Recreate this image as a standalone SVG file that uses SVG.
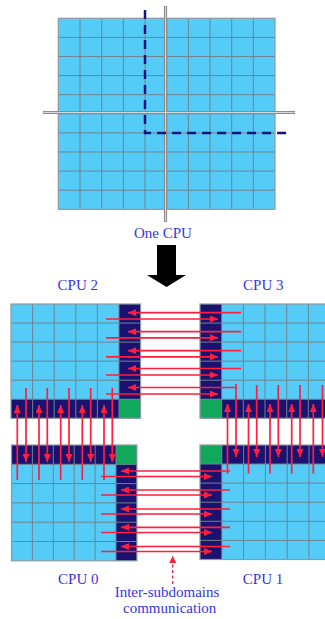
<svg xmlns="http://www.w3.org/2000/svg" width="325" height="619" viewBox="0 0 325 619">
<style>
.cell{fill:#55ccf8}
.navy{fill:#1b1270}
.green{fill:#12a85c}
.grid{fill:none;stroke:#6f8390;stroke-width:1}
.border{fill:none;stroke:#8a9aa2;stroke-width:1.2}
.lbl{font-family:"Liberation Serif","Times New Roman",serif;font-size:15px;fill:#3636e0;text-anchor:middle}
.ar{stroke:#ff1e3e;stroke-width:1.7;fill:none;marker-end:url(#ah)}
</style>
<defs>
<marker id="ah" markerUnits="userSpaceOnUse" markerWidth="9" markerHeight="7" refX="8" refY="3.5" orient="auto">
<path d="M0,0 L8,3.5 L0,7 z" fill="#ff1e3e"/>
</marker>
<marker id="ahd" markerUnits="userSpaceOnUse" markerWidth="8" markerHeight="7" refX="7" refY="3.5" orient="auto">
<path d="M0,0 L7,3.5 L0,7 z" fill="#ff1e3e"/>
</marker>
</defs>
<rect width="325" height="619" fill="#ffffff"/>

<g id="one-cpu">
<rect class="cell" x="58.3" y="18.3" width="216.7" height="191"/>
<path class="grid" d="M80,18.3V209.3M101.7,18.3V209.3M123.3,18.3V209.3M145,18.3V209.3M166.7,18.3V209.3M188.3,18.3V209.3M210,18.3V209.3M231.7,18.3V209.3M253.3,18.3V209.3M58.3,37.4H275M58.3,56.5H275M58.3,75.6H275M58.3,94.7H275M58.3,113.8H275M58.3,132.9H275M58.3,152H275M58.3,171.1H275M58.3,190.2H275"/>
<rect class="border" x="58.3" y="18.3" width="216.7" height="191"/>
<path d="M165.5,6V222M43,112.5H295" stroke="#8c8c8c" stroke-width="3.2" fill="none"/>
<path d="M165.5,6.5V221.5M43.5,112.5H294.5" stroke="#d8d8d8" stroke-width="1" fill="none"/>
<path d="M145,10V132.9H292" stroke="#141480" stroke-width="2.5" fill="none" stroke-dasharray="9,6"/>
<text class="lbl" x="163" y="238">One CPU</text>
</g>

<g id="split-arrow">
<polygon points="157,245 176,245 176,275 186,275 166.5,287 147,275 157,275" fill="#000000"/>
</g>

<g id="cpu2">
<rect class="cell" x="11" y="304" width="129.6" height="114.3"/>
<rect class="navy" x="119" y="304" width="21.6" height="95.25"/>
<rect class="navy" x="11" y="399.25" width="108" height="19.05"/>
<rect class="green" x="119" y="399.25" width="21.6" height="19.05"/>
<path class="grid" d="M32.6,304V418.3M54.2,304V418.3M75.8,304V418.3M97.4,304V418.3M119,304V418.3M11,323.05H140.6M11,342.1H140.6M11,361.15H140.6M11,380.2H140.6M11,399.25H140.6"/>
<rect class="border" x="11" y="304" width="129.6" height="114.3"/>
<text class="lbl" x="77.8" y="290">CPU 2</text>
</g>

<g id="cpu3">
<rect class="cell" x="200" y="304" width="130" height="114.3"/>
<rect class="navy" x="200" y="304" width="21.7" height="95.25"/>
<rect class="navy" x="221.7" y="399.25" width="108.3" height="19.05"/>
<rect class="green" x="200" y="399.25" width="21.7" height="19.05"/>
<path class="grid" d="M221.7,304V418.3M243.3,304V418.3M265,304V418.3M286.7,304V418.3M308.3,304V418.3M200,323.05H330M200,342.1H330M200,361.15H330M200,380.2H330M200,399.25H330"/>
<rect class="border" x="200" y="304" width="130" height="114.3"/>
<text class="lbl" x="263.3" y="290">CPU 3</text>
</g>

<g id="cpu0">
<rect class="cell" x="11.5" y="445" width="125.4" height="115.8"/>
<rect class="navy" x="11.5" y="445" width="104.5" height="19.3"/>
<rect class="navy" x="116" y="464.3" width="20.9" height="96.5"/>
<rect class="green" x="116" y="445" width="20.9" height="19.3"/>
<path class="grid" d="M32.4,445V560.8M53.3,445V560.8M74.2,445V560.8M95.1,445V560.8M116,445V560.8M11.5,464.3H136.9M11.5,483.6H136.9M11.5,502.9H136.9M11.5,522.2H136.9M11.5,541.5H136.9"/>
<rect class="border" x="11.5" y="445" width="125.4" height="115.8"/>
<text class="lbl" x="78.3" y="584">CPU 0</text>
</g>

<g id="cpu1">
<rect class="cell" x="200" y="445" width="130.8" height="114.5"/>
<rect class="navy" x="221.8" y="445" width="109" height="19"/>
<rect class="navy" x="200" y="464" width="21.8" height="95.5"/>
<rect class="green" x="200" y="445" width="21.8" height="19"/>
<path class="grid" d="M221.8,445V559.5M243.6,445V559.5M265.4,445V559.5M287.2,445V559.5M309,445V559.5M200,464H330.8M200,483.1H330.8M200,502.2H330.8M200,521.3H330.8M200,540.4H330.8"/>
<rect class="border" x="200" y="445" width="130.8" height="114.5"/>
<text class="lbl" x="263" y="584">CPU 1</text>
</g>

<g id="connectors">
<line class="ar" x1="241" y1="312.7" x2="128" y2="312.7"/>
<line class="ar" x1="241" y1="331.7" x2="128" y2="331.7"/>
<line class="ar" x1="241" y1="350.7" x2="128" y2="350.7"/>
<line class="ar" x1="241" y1="368.5" x2="128" y2="368.5"/>
<line class="ar" x1="235" y1="387.5" x2="128" y2="387.5"/>
<line class="ar" x1="106" y1="319" x2="218" y2="319"/>
<line class="ar" x1="106" y1="337.8" x2="218" y2="337.8"/>
<line class="ar" x1="106" y1="356.8" x2="218" y2="356.8"/>
<line class="ar" x1="106" y1="375" x2="218" y2="375"/>
<line class="ar" x1="106" y1="394" x2="218" y2="394"/>
<line class="ar" x1="17.3" y1="480" x2="17.3" y2="405"/>
<line class="ar" x1="39" y1="480" x2="39" y2="405"/>
<line class="ar" x1="60.7" y1="480" x2="60.7" y2="405"/>
<line class="ar" x1="82.3" y1="480" x2="82.3" y2="405"/>
<line class="ar" x1="104" y1="480" x2="104" y2="405"/>
<line class="ar" x1="26" y1="388" x2="26" y2="462"/>
<line class="ar" x1="47.3" y1="388" x2="47.3" y2="462"/>
<line class="ar" x1="69" y1="388" x2="69" y2="462"/>
<line class="ar" x1="90.7" y1="388" x2="90.7" y2="462"/>
<line class="ar" x1="112.3" y1="388" x2="112.3" y2="462"/>
<line class="ar" x1="227.5" y1="473.5" x2="227.5" y2="404"/>
<line class="ar" x1="248.5" y1="473.5" x2="248.5" y2="404"/>
<line class="ar" x1="270" y1="473.5" x2="270" y2="404"/>
<line class="ar" x1="291.7" y1="473.5" x2="291.7" y2="404"/>
<line class="ar" x1="313.3" y1="473.5" x2="313.3" y2="404"/>
<line class="ar" x1="236" y1="384" x2="236" y2="457"/>
<line class="ar" x1="256.7" y1="385" x2="256.7" y2="457"/>
<line class="ar" x1="278.3" y1="385" x2="278.3" y2="457"/>
<line class="ar" x1="300" y1="385" x2="300" y2="457"/>
<line class="ar" x1="322.5" y1="385" x2="322.5" y2="457"/>
<line class="ar" x1="230" y1="471" x2="121" y2="471"/>
<line class="ar" x1="230" y1="490" x2="121" y2="490"/>
<line class="ar" x1="230" y1="509" x2="121" y2="509"/>
<line class="ar" x1="230" y1="527.3" x2="121" y2="527.3"/>
<line class="ar" x1="230" y1="546.5" x2="121" y2="546.5"/>
<line class="ar" x1="101" y1="476.5" x2="212" y2="476.5"/>
<line class="ar" x1="101" y1="495" x2="212" y2="495"/>
<line class="ar" x1="101" y1="514" x2="212" y2="514"/>
<line class="ar" x1="101" y1="532.5" x2="212" y2="532.5"/>
<line class="ar" x1="101" y1="551.5" x2="212" y2="551.5"/>
<line x1="172.7" y1="584" x2="172.7" y2="556" stroke="#ff1e3e" stroke-width="1.3" stroke-dasharray="3,2.5" marker-end="url(#ahd)"/>
</g>

<g id="annotation">
<text class="lbl" x="167" y="597">Inter-subdomains</text>
<text class="lbl" x="169.7" y="613">communication</text>
</g>
</svg>
